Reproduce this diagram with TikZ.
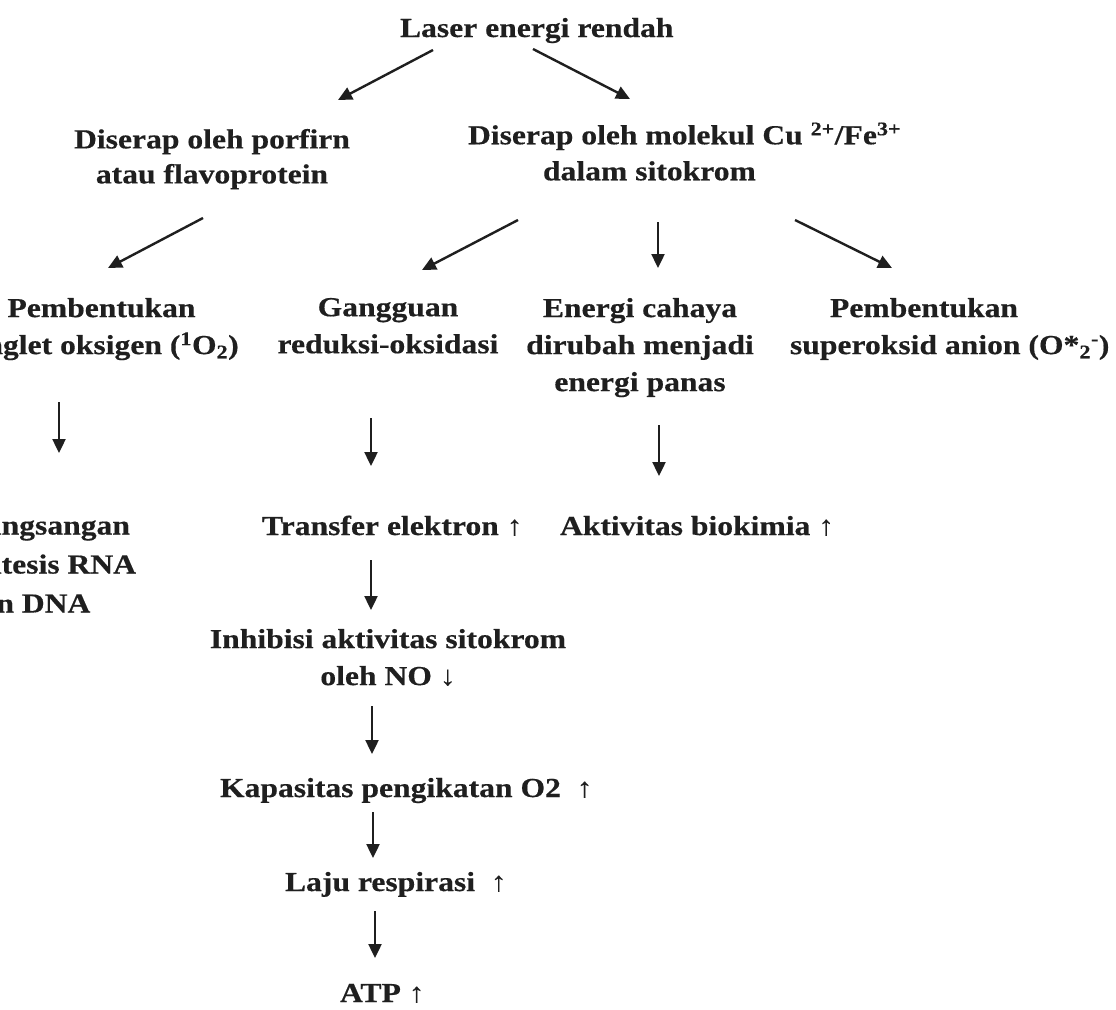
\documentclass[tikz,border=0pt]{standalone}
\usepackage{fontspec}
\setmainfont{Liberation Serif}[FakeStretch=1.15, BoldFeatures={FakeBold=0.4}]
\usetikzlibrary{arrows.meta}
\tikzset{
  lbl/.style={inner sep=0pt, outer sep=0pt, text=black!88, font=\bfseries\fontsize{27.5}{35}\selectfont},
  sk/.style={font=\bfseries\fontsize{27.5}{#1}\selectfont},
  arr/.style={line width=2.4pt, draw=black!88, -{Triangle[length=14pt,width=13pt]}}
}
\begin{document}
\begin{tikzpicture}[x=1pt,y=-1pt]
\useasboundingbox (0,0) rectangle (1116,1009);
\fill[white] (0,0) rectangle (1116,1009);
\clip (0,0) rectangle (1116,1009);

% texts
\node[lbl, anchor=base west] (laser) at (400,37) {Laser energi rendah};
\node[lbl, sk=35, anchor=north, align=center] (porf) at (212,129) {Diserap oleh porfirn\\atau flavoprotein};
\node[lbl, sk=36, anchor=north west, align=left] (cyt) at (468,122.5) {Diserap oleh molekul Cu \textsuperscript{2+}/Fe\textsuperscript{3+}\\\hspace*{75pt}dalam sitokrom};

\node[lbl, sk=37, anchor=north, align=center] (singlet) at (101.5,298) {Pembentukan\\singlet oksigen (\textsuperscript{1}O\textsubscript{2})};
\node[lbl, sk=37, anchor=north, align=center] (redoks) at (388,298) {Gangguan\\reduksi-oksidasi};
\node[lbl, sk=37, anchor=north, align=center] (panas) at (640,298) {Energi cahaya\\dirubah menjadi\\energi panas};
\node[lbl, sk=37, anchor=north west, align=left] (super) at (790,298) {\hspace*{40pt}Pembentukan\\superoksid anion (O*\textsubscript{2}\textsuperscript{-})};

\node[lbl, sk=39, anchor=north west, align=left] (rna) at (-37,516.5) {Rangsangan\\sintesis RNA\\dan DNA};
\node[lbl, anchor=base west] (elek) at (262,535) {Transfer elektron ↑};
\node[lbl, anchor=base west] (bio) at (560,535) {Aktivitas biokimia ↑};
\node[lbl, sk=37, anchor=north, align=center] (inhib) at (388,629) {Inhibisi aktivitas sitokrom\\oleh NO ↓};
\node[lbl, anchor=base west] (kap) at (220,797) {Kapasitas pengikatan O2~~↑};
\node[lbl, anchor=base west] (laju) at (285,891) {Laju respirasi~~↑};
\node[lbl, anchor=base west] (atp) at (340,1002) {ATP ↑};

% connector end points
\coordinate (l1) at (433,50);  \coordinate (p1) at (338,100);
\coordinate (l2) at (533,49);  \coordinate (c1) at (630,99);
\coordinate (p2) at (203,218); \coordinate (s1) at (108,268);
\coordinate (c2) at (518,220); \coordinate (r1) at (422,270);
\coordinate (c3) at (658,222); \coordinate (e1) at (658,268);
\coordinate (c4) at (795,220); \coordinate (o1) at (892,268);
\coordinate (s2) at (59,402);  \coordinate (n1) at (59,453);
\coordinate (r2) at (371,418); \coordinate (t1) at (371,466);
\coordinate (e2) at (659,425); \coordinate (b1) at (659,476);
\coordinate (t2) at (371,560); \coordinate (i1) at (371,610);
\coordinate (i2) at (372,706); \coordinate (k1) at (372,754);
\coordinate (k2) at (373,812); \coordinate (j1) at (373,858);
\coordinate (j2) at (375,911); \coordinate (a1) at (375,958);

\draw[arr] (l1) -- (p1);
\draw[arr] (l2) -- (c1);
\draw[arr] (p2) -- (s1);
\draw[arr] (c2) -- (r1);
\draw[arr] (c3) -- (e1);
\draw[arr] (c4) -- (o1);
\draw[arr] (s2) -- (n1);
\draw[arr] (r2) -- (t1);
\draw[arr] (e2) -- (b1);
\draw[arr] (t2) -- (i1);
\draw[arr] (i2) -- (k1);
\draw[arr] (k2) -- (j1);
\draw[arr] (j2) -- (a1);
\end{tikzpicture}
\end{document}
